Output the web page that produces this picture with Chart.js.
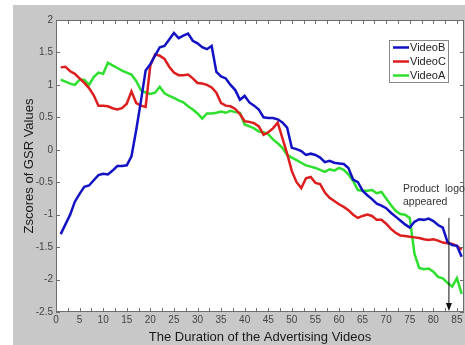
<!DOCTYPE html>
<html>
<head>
<meta charset="utf-8">
<script src="https://cdn.jsdelivr.net/npm/chart.js@4.4.0/dist/chart.umd.min.js"></script>
<style>
  html, body { margin: 0; padding: 0; background: #fff; }
  #wrap { width: 465px; height: 345px; }
</style>
</head>
<body>
<div id="wrap"><canvas id="gsr" width="465" height="345"></canvas></div>
<script>
// seconds into the advert
const seconds = [1,2,3,4,5,6,7,8,9,10,11,12,13,14,15,16,17,18,19,20,21,22,23,24,25,26,27,28,29,30,
  31,32,33,34,35,36,37,38,39,40,41,42,43,44,45,46,47,48,49,50,51,52,53,54,55,56,57,58,59,60,
  61,62,63,64,65,66,67,68,69,70,71,72,73,74,75,76,77,78,79,80,81,82,83,84,85,86]

const videoB = [-1.30,-1.15,-1.00,-0.80,-0.68,-0.57,-0.55,-0.47,-0.39,-0.37,-0.38,-0.32,-0.25,-0.25,-0.24,
  -0.10,0.30,0.75,1.22,1.32,1.45,1.58,1.60,1.70,1.80,1.72,1.76,1.79,1.68,1.64,
  1.58,1.55,1.60,1.20,1.13,1.10,1.00,0.92,0.77,0.83,0.73,0.68,0.62,0.50,0.49,
  0.49,0.47,0.42,0.34,0.03,0.01,-0.02,-0.08,-0.06,-0.08,-0.12,-0.19,-0.17,-0.20,-0.21,
  -0.22,-0.28,-0.46,-0.50,-0.63,-0.70,-0.76,-0.83,-0.86,-0.90,-0.97,-1.03,-1.09,-1.15,-1.20,
  -1.11,-1.07,-1.08,-1.06,-1.10,-1.16,-1.20,-1.42,-1.47,-1.48,-1.65]

const videoC = [1.27,1.28,1.21,1.17,1.10,1.03,0.95,0.84,0.68,0.68,0.67,0.64,0.62,0.64,0.71,
  0.90,0.72,0.68,0.66,1.30,1.47,1.45,1.40,1.28,1.19,1.15,1.15,1.16,1.10,1.03,
  1.02,1.00,0.96,0.88,0.72,0.68,0.67,0.63,0.55,0.44,0.43,0.41,0.36,0.23,0.27,
  0.33,0.42,0.18,-0.06,-0.33,-0.50,-0.59,-0.44,-0.42,-0.51,-0.53,-0.66,-0.74,-0.79,-0.84,
  -0.88,-0.93,-1.00,-1.05,-1.02,-1.00,-1.02,-1.08,-1.08,-1.14,-1.22,-1.28,-1.32,-1.33,-1.34,
  -1.35,-1.36,-1.38,-1.39,-1.38,-1.40,-1.43,-1.44,-1.45,-1.48,-1.54]

const videoA = [1.08,1.05,1.02,1.00,1.08,1.08,1.00,1.12,1.19,1.17,1.34,1.30,1.26,1.22,1.19,
  1.16,1.06,0.92,0.88,0.86,0.88,0.97,0.87,0.83,0.80,0.76,0.73,0.67,0.62,0.56,
  0.48,0.56,0.56,0.57,0.59,0.57,0.60,0.58,0.57,0.39,0.36,0.33,0.28,0.27,0.24,
  0.16,0.10,0.03,-0.08,-0.12,-0.16,-0.20,-0.24,-0.26,-0.28,-0.31,-0.34,-0.30,-0.32,-0.28,
  -0.31,-0.38,-0.48,-0.62,-0.63,-0.63,-0.62,-0.67,-0.65,-0.75,-0.85,-0.94,-0.99,-1.00,-1.05,
  -1.60,-1.82,-1.84,-1.83,-1.88,-1.96,-1.98,-2.05,-2.11,-1.98,-2.22]

const xTicks = [0,5,10,15,20,25,30,35,40,45,50,55,60,65,70,75,80,85]
const yTicks = [-2.5,-2,-1.5,-1,-0.5,0,0.5,1,1.5,2]

const seriesNames = ['VideoB', 'VideoC', 'VideoA']
const seriesColors = ['#1212c4', '#dc1e1e', '#2ee02e']
const logoTime = 83.3
const logoNote = ['Product  logo', 'appeared']

const FONT = '"Liberation Sans", Arial, sans-serif'

// matlab style figure: grey frame, white axes box, inward ticks, legend + arrow note
const matlabLook = {
  id: 'matlabLook',
  beforeDraw (chart) {
    const { ctx, chartArea: a } = chart
    ctx.save()
    ctx.fillStyle = '#fff'
    ctx.fillRect(0, 0, chart.width, chart.height)
    ctx.fillStyle = '#c8c8c8'
    ctx.fillRect(13, 5, chart.width - 13, chart.height - 5)
    ctx.fillStyle = '#fff'
    ctx.fillRect(a.left, a.top, a.right - a.left, a.bottom - a.top)
    ctx.restore()
  },
  afterDraw (chart) {
    const { ctx, chartArea: a, scales } = chart
    const xs = scales.x, ys = scales.y
    ctx.save()
    ctx.strokeStyle = '#6e6e6e'
    ctx.lineWidth = 1
    ctx.strokeRect(a.left + 0.5, a.top + 0.5, a.right - a.left - 1, a.bottom - a.top - 1)
    ctx.beginPath()
    for (let v = 0; v <= xs.max; v += 2.5) {
      const px = Math.round(xs.getPixelForValue(v)) + 0.5
      ctx.moveTo(px, a.bottom); ctx.lineTo(px, a.bottom - 4)
      ctx.moveTo(px, a.top); ctx.lineTo(px, a.top + 4)
    }
    ys.ticks.forEach(t => {
      const py = Math.round(ys.getPixelForValue(t.value)) + 0.5
      ctx.moveTo(a.left, py); ctx.lineTo(a.left + 4, py)
      ctx.moveTo(a.right, py); ctx.lineTo(a.right - 4, py)
    })
    ctx.stroke()

    // legend box
    const lx = 389, ly = 40, lw = 59, lh = 42
    ctx.fillStyle = '#fff'
    ctx.fillRect(lx, ly, lw, lh)
    ctx.strokeStyle = '#888'
    ctx.strokeRect(lx + 0.5, ly + 0.5, lw, lh)
    ctx.font = '11px ' + FONT
    ctx.textBaseline = 'middle'
    ctx.textAlign = 'left'
    chart.data.datasets.forEach((ds, i) => {
      const y = ly + 7.5 + i * 14
      ctx.strokeStyle = ds.borderColor
      ctx.lineWidth = 2.5
      ctx.beginPath(); ctx.moveTo(lx + 4, y); ctx.lineTo(lx + 20, y); ctx.stroke()
      ctx.fillStyle = '#222'
      ctx.fillText(ds.label, lx + 21, y + 0.5)
    })

    // product logo arrow
    const ax = xs.getPixelForValue(logoTime)
    const top = ys.getPixelForValue(-1.05), bot = ys.getPixelForValue(-2.5) - 1
    ctx.strokeStyle = '#111'
    ctx.fillStyle = '#111'
    ctx.lineWidth = 1
    ctx.beginPath(); ctx.moveTo(ax, top); ctx.lineTo(ax, bot - 6); ctx.stroke()
    ctx.beginPath(); ctx.moveTo(ax - 3, bot - 8); ctx.lineTo(ax + 3, bot - 8); ctx.lineTo(ax, bot); ctx.closePath(); ctx.fill()
    ctx.font = '10.5px ' + FONT
    ctx.fillStyle = '#333'
    ctx.fillText(logoNote[0], 403, 189)
    ctx.fillText(logoNote[1], 403, 202)
    ctx.restore()
  }
}

const datasets = [videoB, videoC, videoA].map((vals, i) => ({
  label: seriesNames[i],
  data: vals,
  borderColor: seriesColors[i],
  backgroundColor: seriesColors[i],
  borderWidth: 2.5,
  pointRadius: 0,
  tension: 0,
  fill: false
}))

new Chart(document.getElementById('gsr'), {
  type: 'line',
  data: { labels: seconds, datasets: datasets },
  plugins: [matlabLook],
  options: {
    responsive: false,
    animation: false,
    layout: { padding: { top: 20, right: 1, left: 0, bottom: 0 } },
    plugins: { legend: { display: false }, tooltip: { enabled: false } },
    scales: {
      x: {
        type: 'linear',
        min: 0,
        max: 86.5,
        afterFit (scale) { scale.height = 33 },
        afterBuildTicks (scale) { scale.ticks = xTicks.map(v => ({ value: v })) },
        ticks: { autoSkip: false, padding: 2, color: '#444', font: { family: FONT, size: 10 }, maxRotation: 0,
          callback: v => String(v) },
        grid: { display: false, drawTicks: false },
        border: { display: false },
        title: { display: true, text: 'The Duration of the Advertising Videos', color: '#1a1a1a',
          font: { family: FONT, size: 13 }, padding: { top: 0, bottom: 0 } }
      },
      y: {
        min: -2.5,
        max: 2,
        afterFit (scale) { scale.width = 56 },
        afterBuildTicks (scale) { scale.ticks = yTicks.map(v => ({ value: v })) },
        ticks: { autoSkip: false, padding: 3, color: '#444', font: { family: FONT, size: 10 },
          callback: v => String(v) },
        grid: { display: false, drawTicks: false },
        border: { display: false },
        title: { display: true, text: 'Zscores of GSR Values', color: '#1a1a1a',
          font: { family: FONT, size: 13 }, padding: { top: 22, bottom: 0 } }
      }
    }
  }
})
</script>
</body>
</html>
